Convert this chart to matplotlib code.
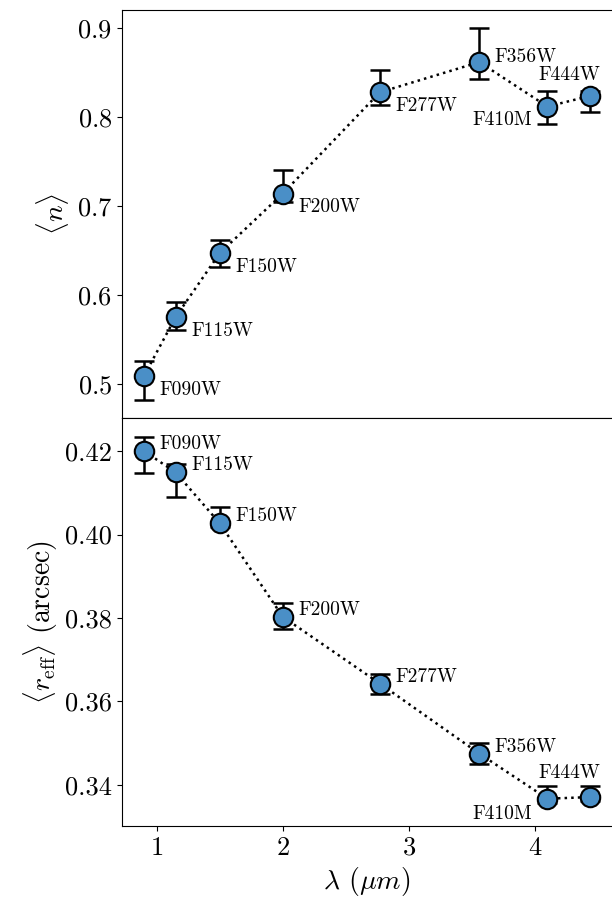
import numpy as np
import matplotlib
matplotlib.use("Agg")
import matplotlib.pyplot as plt

plt.rcParams['font.family'] = 'serif'
plt.rcParams['font.serif'] = ['cmr10']
plt.rcParams['mathtext.fontset'] = 'cm'
plt.rcParams['axes.formatter.use_mathtext'] = True
plt.rcParams['axes.unicode_minus'] = False

# data
filters = ['F090W', 'F115W', 'F150W', 'F200W', 'F277W', 'F356W', 'F410M', 'F444W']
wave = np.array([0.90, 1.15, 1.50, 2.00, 2.77, 3.56, 4.10, 4.44])

n_mean = np.array([0.509, 0.575, 0.647, 0.714, 0.828, 0.862, 0.812, 0.824])
n_lo = np.array([0.027, 0.015, 0.016, 0.010, 0.014, 0.019, 0.020, 0.018])
n_hi = np.array([0.017, 0.017, 0.015, 0.027, 0.025, 0.038, 0.018, 0.005])

r_mean = np.array([0.4200, 0.4149, 0.4027, 0.3803, 0.3643, 0.3475, 0.3367, 0.3371])
r_lo = np.array([0.0053, 0.0058, 0.0010, 0.0029, 0.0025, 0.0024, 0.0010, 0.0010])
r_hi = np.array([0.0033, 0.0021, 0.0039, 0.0032, 0.0024, 0.0025, 0.0031, 0.0027])

# label offsets (points) for each panel
n_offs = [(11, -10), (11, -10), (11, -10), (11, -10), (11, -10), (11, 4), (-11, -10), (7, 15)]
n_ha = ['left'] * 6 + ['right', 'right']
r_offs = [(11, 5), (11, 5), (11, 5), (11, 5), (11, 5), (11, 5), (-11, -11), (7, 17)]
r_ha = ['left'] * 6 + ['right', 'right']

col = '#4a8fc7'

fig, (ax1, ax2) = plt.subplots(2, 1, figsize=(6.12, 9.06), dpi=100, sharex=True)
fig.subplots_adjust(left=0.199, right=1.001, top=0.989, bottom=0.088, hspace=0)


def panel(ax, y, lo, hi, offs, has):
    ax.plot(wave, y, ':', color='k', lw=1.8, zorder=1)
    ax.errorbar(wave, y, yerr=[lo, hi], fmt='none', ecolor='k', elinewidth=1.8,
                capsize=7, capthick=1.8, zorder=2)
    ax.plot(wave, y, 'o', ms=14, mfc=col, mec='k', mew=1.5, ls='none', zorder=3)
    for i in range(len(filters)):
        ax.annotate(filters[i], (wave[i], y[i]), xytext=offs[i], textcoords='offset points',
                    ha=has[i], va='center', fontsize=14)
    ax.tick_params(labelsize=19)


panel(ax1, n_mean, n_lo, n_hi, n_offs, n_ha)
panel(ax2, r_mean, r_lo, r_hi, r_offs, r_ha)

ax1.set_ylim(0.4613, 0.9207)
ax1.set_yticks([0.5, 0.6, 0.7, 0.8, 0.9])
ax1.tick_params(axis='x', length=0)
ax2.set_ylim(0.3301, 0.4279)
ax2.set_yticks([0.34, 0.36, 0.38, 0.40, 0.42])
ax2.set_yticklabels(['0.34', '0.36', '0.38', '0.40', '0.42'])
ax2.set_xticks([1, 2, 3, 4])

ax1.set_ylabel(r'$\langle n \rangle$', fontsize=20)
ax2.set_ylabel(r'$\langle r_{\mathrm{eff}} \rangle$ (arcsec)', fontsize=20)
ax2.set_xlabel(r'$\lambda$ ($\mu m$)', fontsize=20)

fig.savefig('out.png', dpi=100)
